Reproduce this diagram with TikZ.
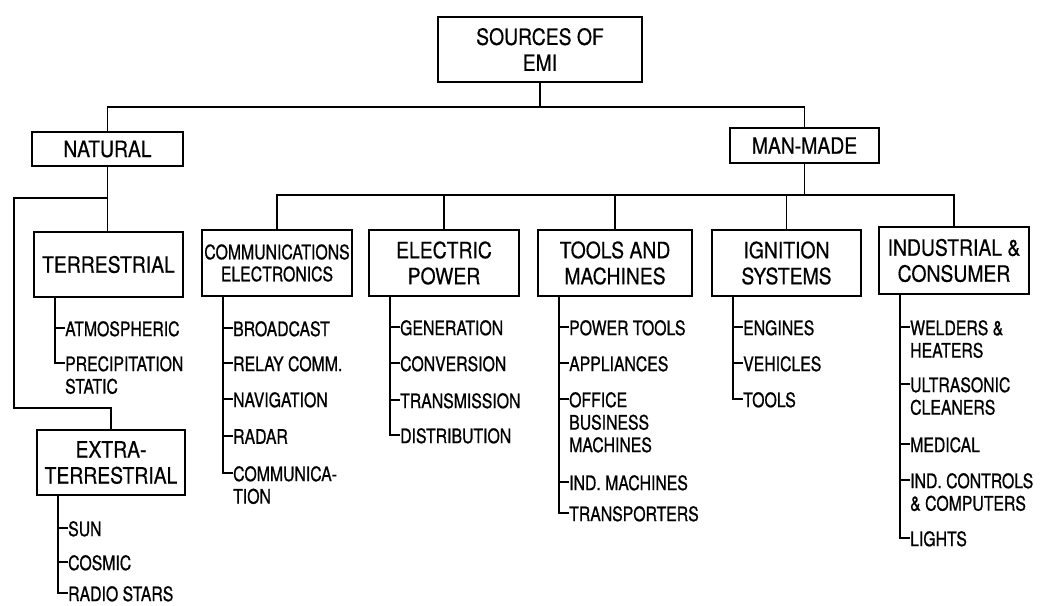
\documentclass[tikz,border=0pt]{standalone}
\usepackage{fontspec}
\setmainfont{TeX Gyre Heros}
\newfontfamily\boxfont{TeX Gyre Heros}[FakeStretch=0.86,FakeBold=0.5]
\newfontfamily\leaffont{TeX Gyre Heros}[FakeStretch=0.79,FakeBold=0.8]
\begin{document}
\begin{tikzpicture}[x=1pt,y=-1pt,
  box/.style={draw, line width=1.8pt, align=center, inner sep=0pt,
    font=\boxfont\fontsize{22.5}{26}\selectfont},
  smallbox/.style={box, font=\leaffont\fontsize{20}{22}\selectfont},
  leaf/.style={anchor=north west, inner sep=0pt, align=left,
    font=\leaffont\fontsize{20}{22.5}\selectfont},
  conn/.style={line width=1.8pt}]
\useasboundingbox (0,0) rectangle (1041,605);

% boxes
\node[box, minimum width=204pt, minimum height=65pt] (root) at (540,49.5) {SOURCES OF\\EMI};
\node[box, minimum width=151pt, minimum height=34pt] (natural) at (107.5,149) {NATURAL};
\node[box, minimum width=149pt, minimum height=35pt] (manmade) at (804.5,145.5) {MAN-MADE};
\node[box, minimum width=149pt, minimum height=65pt] (terr) at (108.5,264.5) {TERRESTRIAL};
\node[box, minimum width=148pt, minimum height=65pt] (extra) at (111,462.5) {EXTRA-\\TERRESTRIAL};
\node[smallbox, minimum width=150pt, minimum height=66pt] (comm) at (277,263) {COMMUNICATIONS\\ELECTRONICS};
\node[box, minimum width=150pt, minimum height=66pt] (elec) at (444,263) {ELECTRIC\\POWER};
\node[box, minimum width=154pt, minimum height=66pt] (tools) at (615,263) {TOOLS AND\\MACHINES};
\node[box, minimum width=149pt, minimum height=66pt] (ign) at (786.5,263) {IGNITION\\SYSTEMS};
\node[box, minimum width=150pt, minimum height=67pt] (ind) at (954,260.5) {INDUSTRIAL \&\\CONSUMER};

% bus coordinates
\coordinate (rbus) at (0,107);
\coordinate (nbus) at (0,198);
\coordinate (nleft) at (14,198);
\coordinate (ebus) at (0,408);
\coordinate (mbus) at (0,195);

% top level connectors
\draw[conn] (root.south) -- (root.south |- rbus);
\draw[conn] (natural.north) -- (natural.north |- rbus) -- (manmade.north |- rbus) -- (manmade.north);
\draw[conn] (natural.south) -- (natural.south |- terr.north);
\draw[conn] (natural.south |- nbus) -- (nleft) |- (extra.north |- ebus) -- (extra.north);
\draw[conn] (manmade.south) -- (manmade.south |- mbus);
\draw[conn] (comm.north) -- (comm.north |- mbus) -- (ind.north |- mbus) -- (ind.north);
\draw[conn] (elec.north) -- (elec.north |- mbus);
\draw[conn] (tools.north) -- (tools.north |- mbus);
\draw[conn] (ign.north) -- (ign.north |- mbus);

% leaves
\node[leaf] (t1) at (65,321) {ATMOSPHERIC};
\node[leaf] (t2) at (65,356) {PRECIPITATION\\STATIC};

\node[leaf] (x1) at (68,521) {SUN};
\node[leaf] (x2) at (68,555) {COSMIC};
\node[leaf] (x3) at (68,586) {RADIO STARS};

\node[leaf] (c1) at (233,321) {BROADCAST};
\node[leaf] (c2) at (233,356) {RELAY COMM.};
\node[leaf] (c3) at (233,392) {NAVIGATION};
\node[leaf] (c4) at (233,429) {RADAR};
\node[leaf] (c5) at (233,466) {COMMUNICA-\\TION};

\node[leaf] (e1) at (400,320) {GENERATION};
\node[leaf] (e2) at (400,356) {CONVERSION};
\node[leaf] (e3) at (400,393) {TRANSMISSION};
\node[leaf] (e4) at (400,428) {DISTRIBUTION};

\node[leaf] (m1) at (569,320) {POWER TOOLS};
\node[leaf] (m2) at (569,356) {APPLIANCES};
\node[leaf] (m3) at (569,392) {OFFICE\\BUSINESS\\MACHINES};
\node[leaf] (m4) at (569,475) {IND. MACHINES};
\node[leaf] (m5) at (569,506) {TRANSPORTERS};

\node[leaf] (g1) at (743,320) {ENGINES};
\node[leaf] (g2) at (743,356) {VEHICLES};
\node[leaf] (g3) at (743,392) {TOOLS};

\node[leaf] (i1) at (910,320) {WELDERS \&\\HEATERS};
\node[leaf] (i2) at (910,377) {ULTRASONIC\\CLEANERS};
\node[leaf] (i3) at (910,437) {MEDICAL};
\node[leaf] (i4) at (910,473) {IND. CONTROLS\\\& COMPUTERS};
\node[leaf] (i5) at (910,531) {LIGHTS};

% stems
\coordinate (ts) at ([xshift=22pt]terr.south west);
\coordinate (xs) at ([xshift=22pt]extra.south west);
\coordinate (cs) at ([xshift=22pt]comm.south west);
\coordinate (es) at ([xshift=22pt]elec.south west);
\coordinate (ms) at ([xshift=22pt]tools.south west);
\coordinate (gs) at ([xshift=22pt]ign.south west);
\coordinate (is) at ([xshift=22pt]ind.south west);

\foreach \s/\l in {ts/t1,ts/t2,xs/x1,xs/x2,xs/x3,cs/c1,cs/c2,cs/c3,cs/c4,cs/c5,
  es/e1,es/e2,es/e3,es/e4,ms/m1,ms/m2,ms/m3,ms/m4,ms/m5,gs/g1,gs/g2,gs/g3,
  is/i1,is/i2,is/i3,is/i4,is/i5}
  \draw[conn] (\s) |- ([yshift=-7pt]\l.north west);
\end{tikzpicture}
\end{document}
